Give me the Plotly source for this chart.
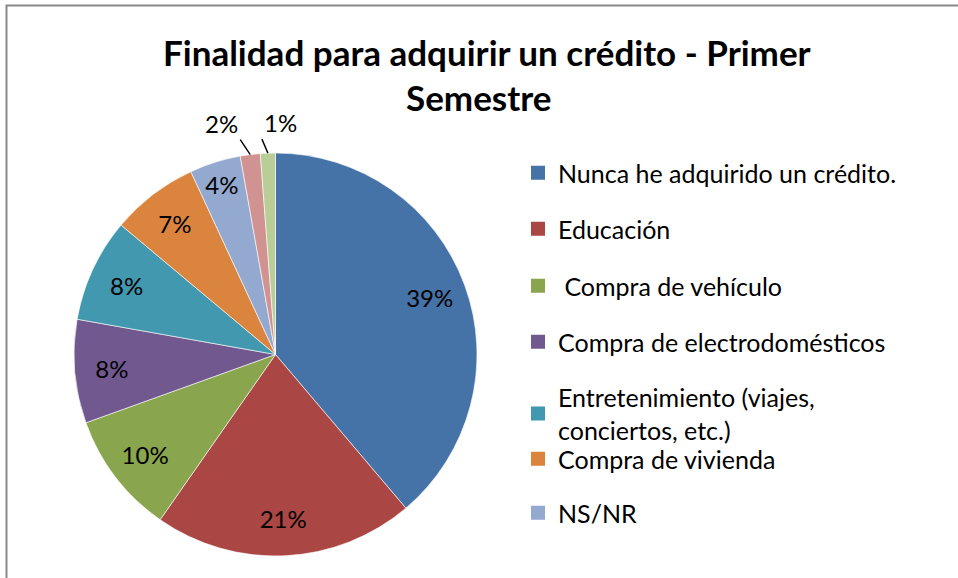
import math
import plotly.graph_objects as go

# ---- data ----
categories = [
    "Nunca he adquirido un crédito.",
    "Educación",
    "\u00a0Compra de vehículo",
    "Compra de electrodomésticos",
    "Entretenimiento (viajes,<br>conciertos, etc.)",
    "Compra de vivienda",
    "NS/NR",
    "Otros",
    "Libre inversión",
]
values = [38.8, 20.9, 9.8, 8.3, 8.3, 7.0, 4.1, 1.6, 1.2]
colors = ["#4572A7", "#AA4643", "#89A54E", "#71588F", "#4198AF",
          "#DB843D", "#93A9CF", "#D19392", "#B9CD96"]
legend_count = 7  # entries visible in the legend
title_lines = ["Finalidad para adquirir un crédito - Primer", "Semestre"]

W, H = 958, 578
FONT = "Lato"

# pie geometry (pixels)
PX0, PX1, PY0, PY1 = 74, 477, 153, 556
CX, CY, R = (PX0 + PX1) / 2, (PY0 + PY1) / 2, (PX1 - PX0) / 2
domain = dict(x=[PX0 / W, PX1 / W], y=[1 - PY1 / H, 1 - PY0 / H])

fig = go.Figure()

# base pie (colours)
fig.add_trace(go.Pie(
    labels=categories, values=values, sort=False,
    direction="clockwise", rotation=0,
    marker=dict(colors=colors, line=dict(color="white", width=0.6)),
    textinfo="none", domain=domain, showlegend=False,
    hoverinfo="label+percent",
))

# transparent ring used to place the inside percentage labels
inside_n = 7
fig.add_trace(go.Pie(
    labels=categories, values=values, sort=False,
    direction="clockwise", rotation=0, hole=0.63,
    marker=dict(colors=["rgba(0,0,0,0)"] * len(values), line=dict(width=0)),
    texttemplate="%{percent:.0%}",
    textposition=["inside"] * inside_n + ["none"] * (len(values) - inside_n),
    insidetextorientation="horizontal",
    textfont=dict(family=FONT, size=24, color="black"),
    domain=domain, showlegend=False, hoverinfo="skip",
))

# outside labels with leader lines for the two smallest slices
total = sum(values)
cum = 0.0
mids = []
for v in values:
    mids.append((cum + v / 2) / total)
    cum += v
tail_offsets = {7: (-10, -15, "right"), 8: (-6, -14, "left")}
for i, (dx, dy, anchor) in tail_offsets.items():
    th = 2 * math.pi * mids[i]
    tx, ty = CX + R * math.sin(th), CY - R * math.cos(th)
    fig.add_annotation(
        x=tx / W, y=1 - ty / H, xref="paper", yref="paper",
        ax=dx, ay=dy, text=f"{round(values[i] / total * 100)}%",
        showarrow=True, arrowhead=0, arrowwidth=1.4, arrowcolor="black",
        xanchor=anchor, yanchor="bottom",
        font=dict(family=FONT, size=24, color="black"),
    )

# legend entries (one legend per item so spacing matches the reference)
centers = [173, 229, 286, 342, 413.5, 459, 513]
for i in range(legend_count):
    lname = "legend" if i == 0 else f"legend{i+1}"
    fig.add_trace(go.Scatter(
        x=[None], y=[None], mode="markers",
        name=categories[i],
        marker=dict(symbol="square", size=14, color=colors[i]),
        legend=lname, showlegend=True, hoverinfo="skip",
    ))
    fig.update_layout({lname: dict(
        x=518 / W, xanchor="left",
        y=1 - centers[i] / H, yanchor="middle",
        bgcolor="rgba(0,0,0,0)",
        font=dict(family=FONT, size=25, color="black"),
        itemwidth=30,
    )})

for line, xc, yc in zip(title_lines, [487, 478], [52, 97]):
    fig.add_annotation(text=f"<b>{line}</b>", x=xc / W, y=1 - yc / H,
                       xref="paper", yref="paper", showarrow=False,
                       xanchor="center", yanchor="middle",
                       font=dict(family=FONT, size=35, color="black"))

# chart frame
fig.add_shape(type="rect", xref="paper", yref="paper",
              x0=6.5 / W, x1=1.2, y0=-0.2, y1=1 - 5.5 / H,
              line=dict(color="#898989", width=2), fillcolor="rgba(0,0,0,0)")

fig.update_layout(
    width=W, height=H,
    margin=dict(l=0, r=0, t=0, b=0),
    paper_bgcolor="white", plot_bgcolor="white",
    xaxis=dict(visible=False), yaxis=dict(visible=False),
    font=dict(family=FONT, color="black"),
)

fig.write_html("out.html",
               config={"displayModeBar": False},
               post_script="document.body.style.margin='0';document.body.style.overflow='hidden';")
